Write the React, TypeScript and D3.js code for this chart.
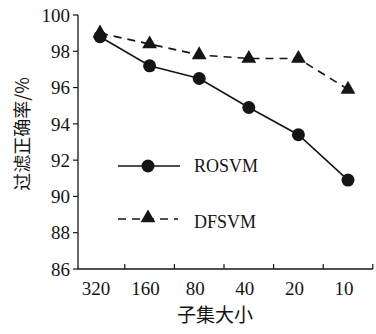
import React, { useEffect, useRef } from 'react';
import * as d3 from 'd3';

const categories = ['320', '160', '80', '40', '20', '10'];
const rosvm = [98.8, 97.2, 96.5, 94.9, 93.4, 90.9];
const dfsvm = [99.0, 98.4, 97.8, 97.6, 97.6, 95.9];
const yTicks = [86, 88, 90, 92, 94, 96, 98, 100];

const W = 376;
const H = 334;
const serif = '"Liberation Serif", "DejaVu Serif", serif';
const cjk = '"Noto Sans CJK SC", sans-serif';
const ink = '#151515';

export default function App() {
  const ref = useRef<SVGSVGElement>(null);

  useEffect(() => {
    const svg = d3.select(ref.current);
    svg.selectAll('*').remove();

    const x = d3.scalePoint<string>().domain(categories).range([100, 348]);
    const y = d3.scaleLinear().domain([86, 100]).range([269, 15]);
    const step = x.step();
    const x0 = 78;

    // y axis
    svg.append('line')
      .attr('x1', x0).attr('x2', x0)
      .attr('y1', y(100)).attr('y2', y(86))
      .attr('stroke', ink).attr('stroke-width', 1.3);
    yTicks.forEach((t) => {
      svg.append('line')
        .attr('x1', x0 - 5).attr('x2', x0)
        .attr('y1', y(t)).attr('y2', y(t))
        .attr('stroke', ink).attr('stroke-width', 1.2);
      svg.append('text')
        .attr('x', x0 - 8).attr('y', y(t))
        .attr('dy', '0.35em')
        .attr('text-anchor', 'end')
        .attr('font-family', serif).attr('font-size', 19)
        .attr('fill', ink)
        .text(t);
    });

    // x axis, ticks sit between the categories
    const xEnd = (x(categories[categories.length - 1]) as number) + step / 2;
    svg.append('line')
      .attr('x1', x0).attr('x2', xEnd)
      .attr('y1', y(86)).attr('y2', y(86))
      .attr('stroke', ink).attr('stroke-width', 1.3);
    categories.forEach((c) => {
      const cx = x(c) as number;
      svg.append('line')
        .attr('x1', cx + step / 2).attr('x2', cx + step / 2)
        .attr('y1', y(86)).attr('y2', y(86) - 5)
        .attr('stroke', ink).attr('stroke-width', 1.2);
      svg.append('text')
        .attr('x', cx - 4).attr('y', 295)
        .attr('text-anchor', 'middle')
        .attr('font-family', serif).attr('font-size', 19)
        .attr('fill', ink)
        .text(c);
    });

    // titles
    svg.append('text')
      .attr('x', 215).attr('y', 322)
      .attr('text-anchor', 'middle')
      .attr('font-family', cjk).attr('font-size', 19)
      .attr('fill', ink)
      .text('子集大小');
    svg.append('text')
      .attr('transform', 'translate(29,134) rotate(-90)')
      .attr('text-anchor', 'middle')
      .attr('font-family', cjk).attr('font-size', 18)
      .attr('fill', ink)
      .text('过滤正确率/%');

    const line = d3.line<number>()
      .x((_, i) => x(categories[i]) as number)
      .y((d) => y(d));

    const tri = d3.symbol().type(d3.symbolTriangle).size(95);

    // DFSVM
    svg.append('path')
      .datum(dfsvm)
      .attr('d', line)
      .attr('fill', 'none')
      .attr('stroke', ink).attr('stroke-width', 1.6)
      .attr('stroke-dasharray', '8,6');
    svg.selectAll('path.tri')
      .data(dfsvm)
      .enter()
      .append('path')
      .attr('class', 'tri')
      .attr('d', tri)
      .attr('transform', (d, i) => `translate(${x(categories[i])},${y(d)})`)
      .attr('fill', ink);

    // ROSVM
    svg.append('path')
      .datum(rosvm)
      .attr('d', line)
      .attr('fill', 'none')
      .attr('stroke', ink).attr('stroke-width', 1.6);
    svg.selectAll('circle.ro')
      .data(rosvm)
      .enter()
      .append('circle')
      .attr('class', 'ro')
      .attr('cx', (_, i) => x(categories[i]) as number)
      .attr('cy', (d) => y(d))
      .attr('r', 6.5)
      .attr('fill', ink);

    // legend
    const lg = svg.append('g');
    lg.append('line')
      .attr('x1', 118).attr('x2', 180).attr('y1', 166).attr('y2', 166)
      .attr('stroke', ink).attr('stroke-width', 1.6);
    lg.append('circle').attr('cx', 148).attr('cy', 166).attr('r', 6.5).attr('fill', ink);
    lg.append('text')
      .attr('x', 194).attr('y', 166).attr('dy', '0.35em')
      .attr('font-family', serif).attr('font-size', 18)
      .attr('fill', ink)
      .text('ROSVM');
    lg.append('line')
      .attr('x1', 118).attr('x2', 178).attr('y1', 219).attr('y2', 219)
      .attr('stroke', ink).attr('stroke-width', 1.6)
      .attr('stroke-dasharray', '8,6');
    lg.append('path')
      .attr('d', tri)
      .attr('transform', 'translate(148,218)')
      .attr('fill', ink);
    lg.append('text')
      .attr('x', 194).attr('y', 222).attr('dy', '0.35em')
      .attr('font-family', serif).attr('font-size', 18)
      .attr('fill', ink)
      .text('DFSVM');
  }, []);

  return (
    <svg
      ref={ref}
      width={W}
      height={H}
      style={{ position: 'absolute', left: 0, top: 0, background: '#fff' }}
    />
  );
}
